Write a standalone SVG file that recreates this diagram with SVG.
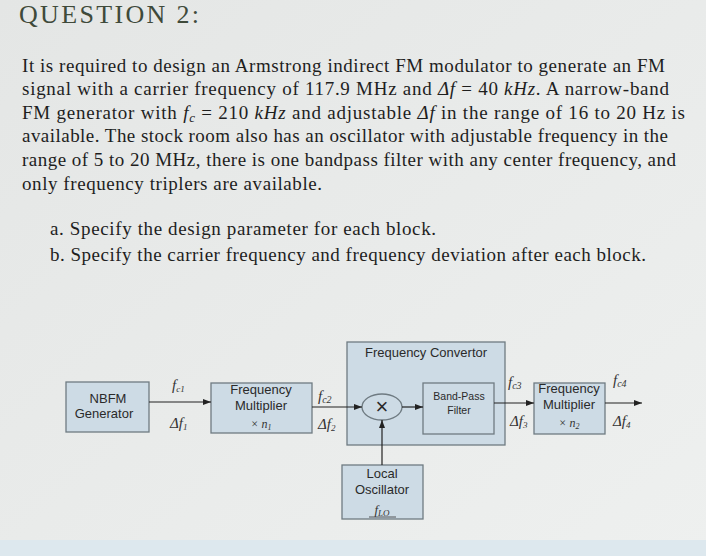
<svg xmlns="http://www.w3.org/2000/svg" width="706" height="556" viewBox="0 0 706 556">
<defs>
<marker id="ah" markerWidth="8" markerHeight="6" refX="8" refY="3" orient="auto" markerUnits="userSpaceOnUse"><path d="M0,0 L8,3 L0,6 z" fill="#222"/></marker>
<linearGradient id="bg" x1="0" y1="0" x2="1" y2="1"><stop offset="0" stop-color="#e4e6e5"/><stop offset="1" stop-color="#eef0ef"/></linearGradient>
</defs>
<style>
.p{font-family:"Liberation Serif",serif;font-size:19px;fill:#1e1e1e}
.m{font-family:"Liberation Serif",serif;font-style:italic;font-size:15px;fill:#333}
.b{fill:#cddbe5;stroke:#6f7b82;stroke-width:1.3}
.t{font-family:"Liberation Sans",Arial,sans-serif;font-size:13px;fill:#2a2a2a;text-anchor:middle}
.s{font-size:10.5px}
.c{stroke:#222;stroke-width:1.2;fill:none}
</style>
<rect width="706" height="556" fill="url(#bg)"/>
<rect y="540" width="706" height="16" fill="#dde8ee"/>
<text x="19" y="23" font-family="Liberation Serif,serif" font-size="26" fill="#3f4a3a" textLength="180">QUESTION 2:</text>
<g class="p">
<text x="22" y="72" textLength="643">It is required to design an Armstrong indirect FM modulator to generate an FM</text>
<text x="22" y="95" textLength="647">signal with a carrier frequency of 117.9 MHz and <tspan font-style="italic">Δf</tspan> = 40 <tspan font-style="italic">kHz</tspan>. A narrow-band</text>
<text x="22" y="119" textLength="663">FM generator with <tspan font-style="italic">f<tspan font-size="13" dy="3">c</tspan></tspan><tspan dy="-3"> = 210 </tspan><tspan font-style="italic">kHz</tspan> and adjustable <tspan font-style="italic">Δf</tspan> in the range of 16 to 20 Hz is</text>
<text x="22" y="142" textLength="646">available. The stock room also has an oscillator with adjustable frequency in the</text>
<text x="22" y="166" textLength="654">range of 5 to 20 MHz, there is one bandpass filter with any center frequency, and</text>
<text x="22" y="190" textLength="300">only frequency triplers are available.</text>
<text x="50" y="235" textLength="386">a.  Specify the design parameter for each block.</text>
<text x="50" y="261" textLength="596">b.  Specify the carrier frequency and frequency deviation after each block.</text>
</g>
<g id="conv"><rect class="b" x="347" y="342" width="158" height="103"/><text class="t" x="426" y="357">Frequency Convertor</text></g>
<g id="nbfm"><rect class="b" x="66" y="382" width="83" height="50"/><text class="t" x="108" y="403">NBFM</text><text class="t" x="104" y="418">Generator</text></g>
<g id="mult1"><rect class="b" x="211" y="383" width="101" height="50"/><text class="t" x="261" y="394">Frequency</text><text class="t" x="261" y="410">Multiplier</text><text class="m" x="261" y="428" text-anchor="middle" style="font-size:12px">× n<tspan font-size="8" dy="2">1</tspan></text></g>
<g id="mixer"><ellipse class="b" cx="382" cy="407" rx="20" ry="13" stroke="#333"/><text class="t" x="382" y="414" style="font-size:22px;font-weight:300">×</text></g>
<g id="bpf"><rect class="b" x="423" y="383" width="71" height="51"/><text class="t s" x="459" y="400">Band-Pass</text><text class="t s" x="459" y="414">Filter</text></g>
<g id="lo"><rect class="b" x="342" y="465" width="81" height="54"/><text class="t" x="382" y="478">Local</text><text class="t" x="382" y="494">Oscillator</text><text class="m" x="382" y="514" text-anchor="middle" style="font-size:13px">f<tspan font-size="9" dy="2">LO</tspan></text><line x1="369" y1="517" x2="396" y2="517" stroke="#333" stroke-width="0.8"/></g>
<g id="mult2"><rect class="b" x="534" y="383" width="71" height="51"/><text class="t" x="569" y="393">Frequency</text><text class="t" x="569" y="409">Multiplier</text><text class="m" x="569" y="427" text-anchor="middle" style="font-size:12px">× n<tspan font-size="8" dy="2">2</tspan></text></g>
<g id="connectors">
<line class="c" x1="149" y1="402" x2="211" y2="402" marker-end="url(#ah)"/>
<line class="c" x1="312" y1="407" x2="362" y2="407" marker-end="url(#ah)"/>
<line class="c" x1="402" y1="407" x2="423" y2="407" marker-end="url(#ah)"/>
<line class="c" x1="382" y1="465" x2="382" y2="420" marker-end="url(#ah)"/>
<line class="c" x1="494" y1="403" x2="534" y2="403" marker-end="url(#ah)"/>
<line class="c" x1="605" y1="403" x2="642" y2="403" marker-end="url(#ah)"/>
</g>
<g class="m">
<text x="172" y="390">f<tspan font-size="9" dy="2">c1</tspan></text>
<text x="170" y="428">Δf<tspan font-size="9" dy="2">1</tspan></text>
<text x="318" y="401">f<tspan font-size="10" dy="2">c2</tspan></text>
<text x="318" y="429">Δf<tspan font-size="9" dy="2">2</tspan></text>
<text x="508" y="387">f<tspan font-size="10" dy="2">c3</tspan></text>
<text x="510" y="426">Δf<tspan font-size="9" dy="2">3</tspan></text>
<text x="613" y="385">f<tspan font-size="10" dy="2">c4</tspan></text>
<text x="613" y="426">Δf<tspan font-size="9" dy="2">4</tspan></text>
</g>
</svg>
